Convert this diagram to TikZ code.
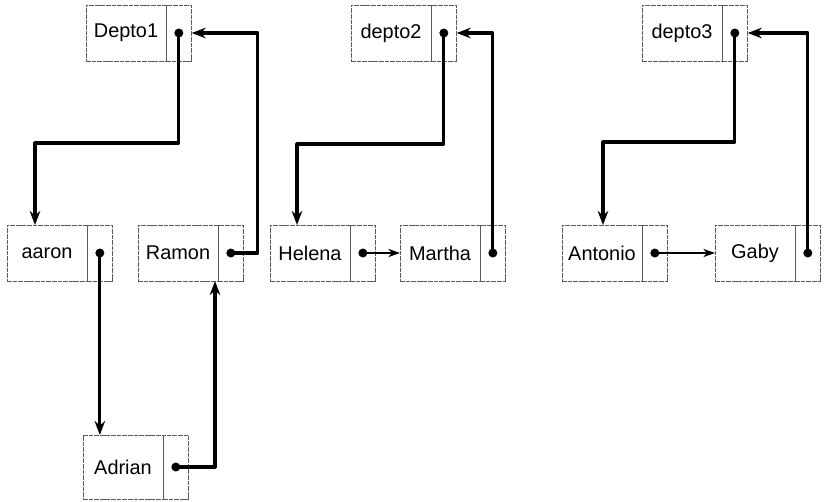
\documentclass[tikz,border=0pt]{standalone}
\usepackage{fontspec}
\setmainfont{Liberation Sans}
\usetikzlibrary{arrows.meta,positioning,calc}
\definecolor{cellgray}{RGB}{90,90,90}

\begin{document}
\begin{tikzpicture}[x=0.03cm,y=-0.03cm,
    namecell/.style={draw=cellgray,line width=0.6pt,dash pattern=on 4pt off 0.8pt,
      minimum width=2.4cm,minimum height=#1,inner sep=0pt,outer sep=0pt,
      font=\fontsize{17}{19}\selectfont},
    namecell/.default=1.68cm,
    ptrcell/.style={draw=cellgray,line width=0.6pt,dash pattern=on 4pt off 0.8pt,
      minimum width=0.77cm,minimum height=#1,inner sep=0pt,outer sep=0pt},
    ptrcell/.default=1.68cm,
    ptrdot/.style={circle,fill=black,inner sep=0pt,minimum size=0.27cm},
    link/.style={line width=2.6pt,line join=round,-{Stealth[length=12pt,width=9pt]}},
    thinlink/.style={line width=1.8pt,-{Stealth[length=10pt,width=7pt]}}]
  \useasboundingbox (0,0) rectangle (826,502);
  % records: name cell + pointer cell
  \foreach \nm/\lab/\x/\y in {depto1/Depto1/86/5, depto2/depto2/351/5, depto3/depto3/642/5,
      aaron/aaron/7/225, ramon/Ramon/138/225, helena/Helena/270/225,
      martha/Martha/400/225, antonio/Antonio/562/225, gaby/Gaby/715/225}
  {
    \node[namecell,anchor=north west] (n-\nm) at (\x,\y) {\lab};
    \node[ptrcell,anchor=west] (p-\nm) at (n-\nm.east) {};
    \node[ptrdot] (d-\nm) at (p-\nm.center) {};
  }
  \node[namecell=1.92cm,anchor=north west] (n-adrian) at (83,435) {Adrian};
  \node[ptrcell=1.92cm,anchor=west] (p-adrian) at (n-adrian.east) {};
  \node[ptrdot] (d-adrian) at (p-adrian.center) {};

  % depto1 list
  \draw[link] (d-depto1.center) -- ++(0,110) -| ($(n-aaron.north west)+(28,0)$);
  \draw[link] (d-aaron.center) -- (d-aaron.center |- n-adrian.north);
  \draw[link] (d-adrian.center) -| ($(n-ramon.south east)+(-3,0)$);
  \draw[link] (d-ramon.center) -- ++(27,0) |- (p-depto1.east);
  % depto2 list
  \draw[link] (d-depto2.center) -- ++(0,111) -| ($(n-helena.north west)+(27,0)$);
  \draw[thinlink] (d-helena.center) -- (n-martha.west);
  \draw[link] (d-martha.center) |- (p-depto2.east);
  % depto3 list
  \draw[link] (d-depto3.center) -- ++(0,109) -| ($(n-antonio.north west)+(41,0)$);
  \draw[thinlink] (d-antonio.center) -- (n-gaby.west);
  \draw[link] (d-gaby.center) |- (p-depto3.east);
\end{tikzpicture}
\end{document}
